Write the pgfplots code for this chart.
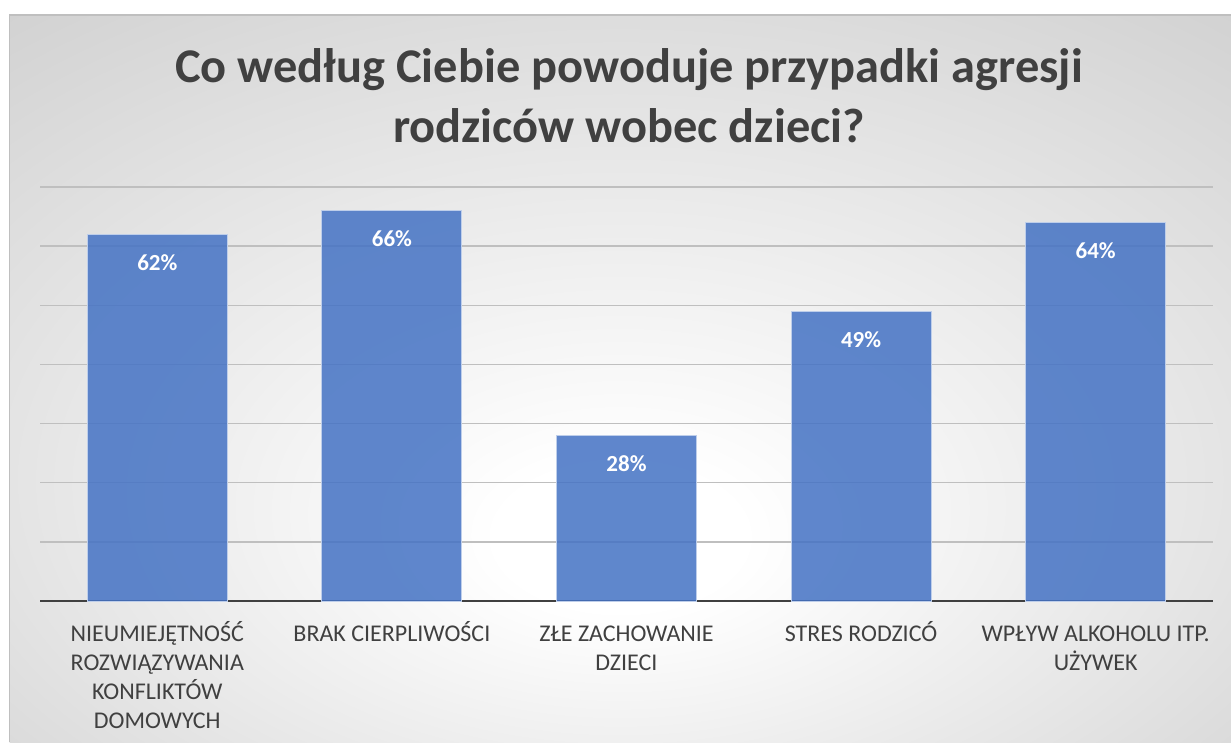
\documentclass[border=0pt]{standalone}
\usepackage{pgfplots}
\pgfplotsset{compat=1.18}
\usepackage{fontspec}
\setmainfont{Carlito}
\definecolor{barblue}{HTML}{4472C4}
\definecolor{txt}{HTML}{404040}
\definecolor{gridc}{HTML}{BFBFBF}
\pgfdeclareradialshading{bgshade}{\pgfpoint{0bp}{-12bp}}{color(0bp)=(white); color(5bp)=(white); color(58bp)=(black!28)}
\newcommand{\ph}{\vphantom{ŚĘ}}
\begin{document}
\begin{tikzpicture}[x=1pt,y=1pt]
\path[use as bounding box] (0,0) rectangle (1231,742);
\fill[white] (0,0) rectangle (1231,742);
\shade[shading=bgshade] (9.5,0) rectangle (1231,727);
\draw[gridc, line width=1.5pt] (9.5,0) -- (9.5,727) -- (1231,727);
\node[anchor=base, font=\bfseries\fontsize{48.4}{56}\selectfont, text=txt] at (629,659) {Co według Ciebie powoduje przypadki agresji};
\node[anchor=base, font=\bfseries\fontsize{48.4}{56}\selectfont, text=txt] at (629,599) {rodziców wobec dzieci?};
\begin{axis}[
  at={(40pt,141pt)}, anchor=south west,
  scale only axis, width=1173pt, height=414pt,
  xmin=-0.5, xmax=4.5, ymin=0, ymax=70,
  ybar, bar width=140pt,
  axis x line*=bottom, axis y line*=left,
  x axis line style={txt, line width=2.2pt, -},
  y axis line style={draw=none},
  ymajorgrids, grid style={gridc, line width=1.3pt},
  ytick={0,10,...,70}, yticklabels={},
  major tick length=0pt,
  /pgf/number format/assume math mode=true,
  xtick={0,1,2,3,4},
  xticklabels={{\ph NIEUMIEJĘTNOŚĆ\\ROZWIĄZYWANIA\\KONFLIKTÓW\\DOMOWYCH},{\ph BRAK CIERPLIWOŚCI},{\ph ZŁE ZACHOWANIE\\DZIECI},{\ph STRES RODZICÓ},{\ph WPŁYW ALKOHOLU ITP.\\UŻYWEK}},
  xticklabel style={align=center, font=\fontsize{24}{29}\selectfont, text=txt, anchor=north, yshift=-17pt},
  nodes near coords={\pgfmathprintnumber{\pgfplotspointmeta}\%},
  nodes near coords style={font=\bfseries\fontsize{23}{26}\selectfont, text=white, text opacity=1, anchor=center, yshift=-28pt},
]
\addplot[fill=barblue, fill opacity=0.85, draw=barblue!35!white, line width=1pt] coordinates {(0,62) (1,66) (2,28) (3,49) (4,64)};
\end{axis}
\end{tikzpicture}
\end{document}
